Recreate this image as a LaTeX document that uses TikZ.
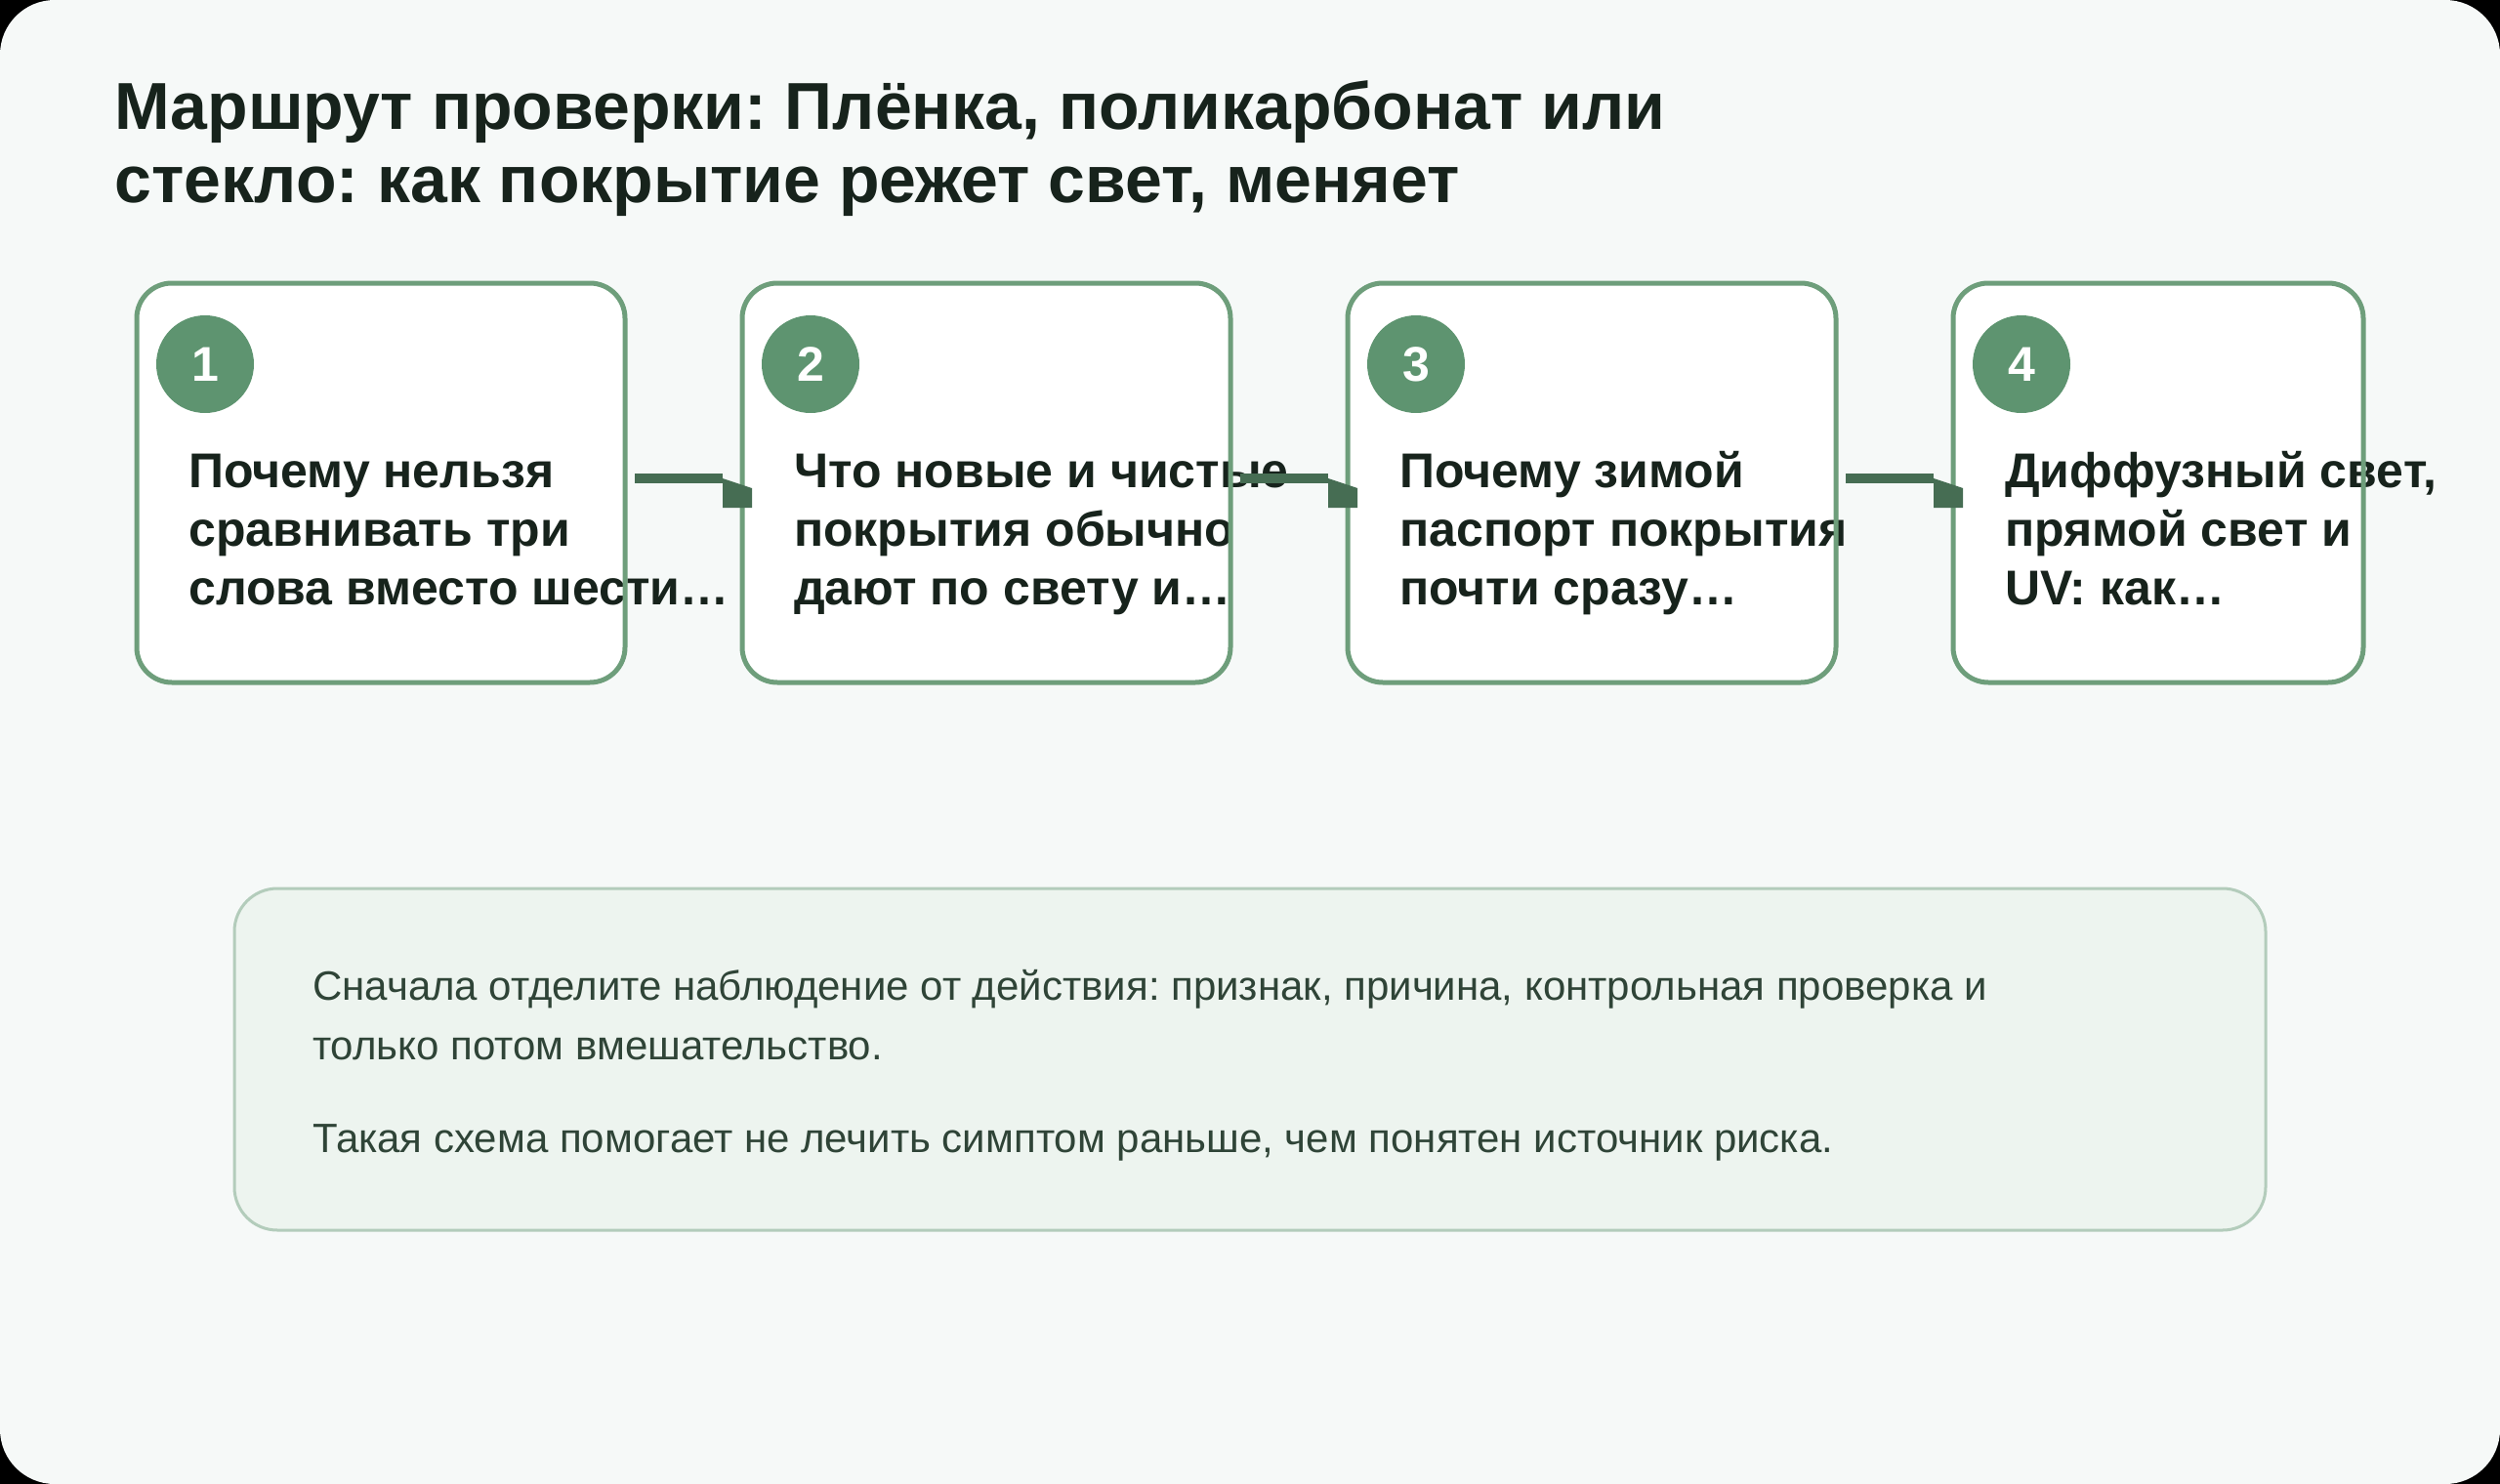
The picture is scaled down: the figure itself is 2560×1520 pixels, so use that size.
\documentclass[tikz,border=0pt]{standalone}
\usepackage{fontspec}
\setmainfont{Liberation Sans}
\usetikzlibrary{calc}
\frenchspacing
\definecolor{bgc}{HTML}{F6F9F8}
\definecolor{titlec}{HTML}{17231C}
\definecolor{boxline}{HTML}{6E9E7B}
\definecolor{badgec}{HTML}{5E9470}
\definecolor{arrowc}{HTML}{466D53}
\definecolor{notefill}{HTML}{EDF4EF}
\definecolor{noteline}{HTML}{B3CCBB}
\definecolor{notetext}{HTML}{2F4437}
\tikzset{
  stepfill/.style={fill=white, draw=none, rounded corners=36pt, minimum width=500pt, minimum height=409pt, inner sep=0pt, outer sep=0pt},
  stepline/.style={draw=boxline, line width=5pt, rounded corners=36pt},
  badge/.style={circle, fill=badgec, minimum size=100pt, inner sep=0pt, text=white, font=\fontsize{50}{50}\selectfont\bfseries},
  steptext/.style={anchor=base west, inner sep=0pt, align=left, text=titlec, font=\fontsize{50}{60}\selectfont\bfseries},
  notetxt/.style={anchor=base west, inner sep=0pt, align=left, text=notetext, font=\fontsize{42}{61}\selectfont},
  conn/.style={draw=arrowc, line width=10pt},
  connhead/.style={fill=arrowc},
}
\begin{document}
\frenchspacing
\begin{tikzpicture}[x=1pt,y=-1pt]
\useasboundingbox (0,0) rectangle (2560,1520);
\fill[black] (0,0) rectangle (2560,1520);
\fill[bgc, rounded corners=56pt] (0,0) rectangle (2560,1520);
% title (base anchor = last line's baseline)
\node[anchor=base west, inner sep=0pt, align=left, text=titlec, font=\fontsize{68}{75}\selectfont\bfseries] (title) at (117,207)
  {Маршрут проверки: Плёнка, поликарбонат или\\стекло: как покрытие режет свет, меняет};
% step boxes (fill)
\node[stepfill] (b1) at (390,494.5) {};
\node[stepfill] (b2) at (1010,494.5) {};
\node[stepfill] (b3) at (1630,494.5) {};
\node[stepfill, minimum width=420pt] (b4) at (2210,494.5) {};
% badges
\node[badge] (n1) at ($(b1.north west)+(70,83)$) {1};
\node[badge] (n2) at ($(b2.north west)+(70,83)$) {2};
\node[badge] (n3) at ($(b3.north west)+(70,83)$) {3};
\node[badge] (n4) at ($(b4.north west)+(70,83)$) {4};
% texts
\node[steptext] (t1) at ($(b1.north west)+(53,329)$) {Почему нельзя\\сравнивать три\\слова вместо шести…};
\node[steptext] (t2) at ($(b2.north west)+(53,329)$) {Что новые и чистые\\покрытия обычно\\дают по свету и…};
\node[steptext] (t3) at ($(b3.north west)+(53,329)$) {Почему зимой\\паспорт покрытия\\почти сразу…};
\node[steptext] (t4) at ($(b4.north west)+(53,329)$) {Диффузный свет,\\прямой свет и\\UV: как…};
% borders
\foreach \b in {b1,b2,b3,b4}{
  \draw[stepline] (\b.north west) rectangle (\b.south east);
}
% connectors
\foreach \a/\c in {b1/b2,b2/b3,b3/b4}{
  \draw[conn] ([xshift=10pt,yshift=4.5pt]\a.east) -- ([xshift=-20pt,yshift=4.5pt]\c.west);
  \fill[connhead] ([xshift=-20pt,yshift=4.5pt]\c.west) -- ++(30,10) -- ++(0,20) -- ++(-30,0) -- cycle;
}
% note box
\node[fill=notefill, draw=noteline, line width=3pt, rounded corners=44pt, minimum width=2080pt, minimum height=350pt, inner sep=0pt] (note) at (1280,1085) {};
\node[notetxt] (p1) at (320,1085) {Сначала отделите наблюдение от действия: признак, причина, контрольная проверка и\\только потом вмешательство.};
\node[notetxt] (p2) at (320,1180) {Такая схема помогает не лечить симптом раньше, чем понятен источник риска.};
\end{tikzpicture}
\end{document}
